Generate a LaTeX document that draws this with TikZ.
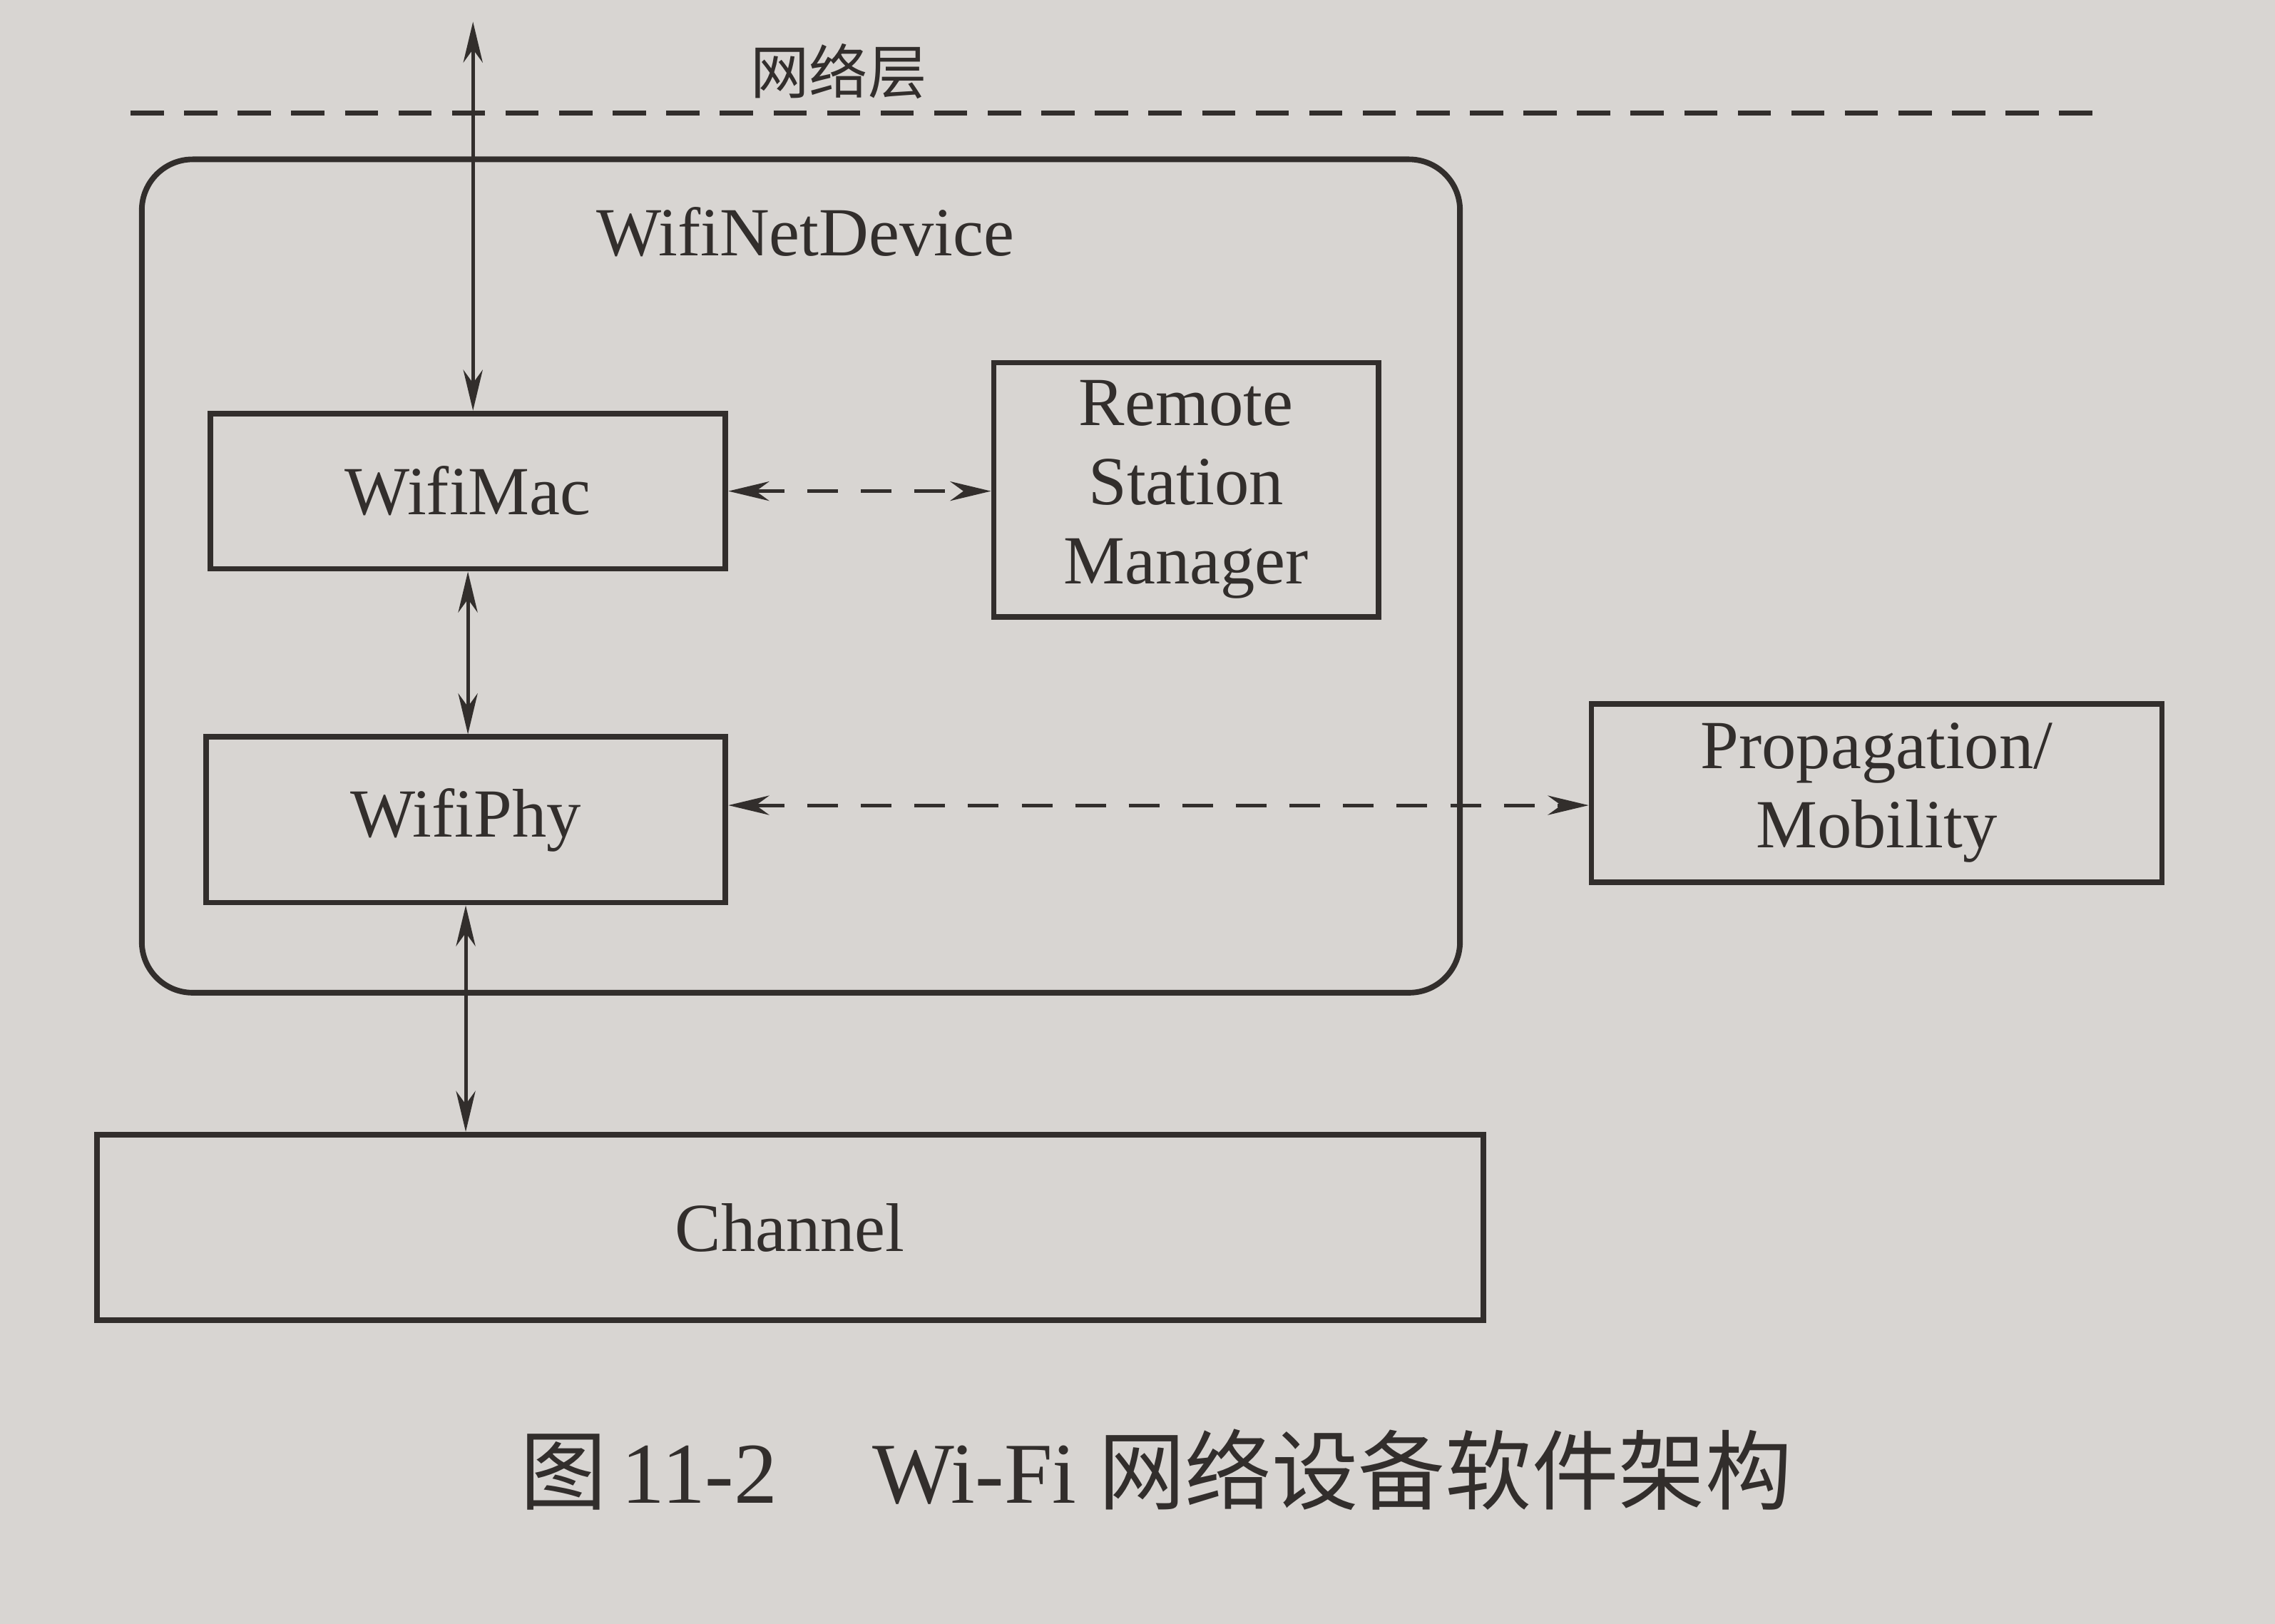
\documentclass[tikz,border=0pt]{standalone}
\usepackage{fontspec}
\setmainfont{Liberation Serif}
\newfontfamily\cjk{Noto Sans CJK SC}
\usetikzlibrary{arrows.meta,calc}
\definecolor{paper}{RGB}{216,213,210}
\definecolor{ink}{RGB}{50,46,44}
\tikzset{
  box/.style={draw=ink, line width=1.1pt, rectangle, inner sep=0pt, align=center, text=ink,
    font=\fontsize{13.5}{15.5}\selectfont},
  lbl/.style={text=ink, inner sep=0pt},
  conn/.style={draw=ink, line width=0.7pt, {Stealth[length=8pt,width=3.8pt]}-{Stealth[length=8pt,width=3.8pt]}},
  dconn/.style={conn, dash pattern=on 6pt off 4.5pt},
}
\begin{document}
\begin{tikzpicture}[x=0.01cm,y=-0.01cm]
\fill[paper] (0,0) rectangle (1568,1119);
\useasboundingbox (0,0) rectangle (1568,1119);

% network layer boundary
\coordinate (dl) at (90,78);
\coordinate (dr) at (1450,78);
\draw[ink, line width=0.9pt, dash pattern=on 6.5pt off 4pt] (dl) -- (dr);
\node[lbl, font=\cjk\fontsize{11.5}{13}\selectfont] (net) at (578,49) {网络层};

% container
\node[draw=ink, line width=1.1pt, rounded corners=0.35cm, minimum width=9.08cm, minimum height=5.74cm, inner sep=0pt] (dev) at (552,397) {};
\node[lbl, font=\fontsize{13.5}{15.5}\selectfont] (devlbl) at (555,160) {WifiNetDevice};

% boxes
\node[box, minimum width=3.55cm, minimum height=1.07cm] (mac) at (322.5,338.5) {WifiMac};
\node[box, minimum width=2.65cm, minimum height=1.75cm] (rsm) at (817.5,337.5) {Remote\\Station\\Manager};
\node[box, minimum width=3.58cm, minimum height=1.14cm] (phy) at (321,565) {WifiPhy};
\node[box, minimum width=3.93cm, minimum height=1.23cm] (prop) at (1293.5,546.5) {Propagation/\\Mobility};
\node[box, minimum width=9.55cm, minimum height=1.28cm] (chan) at (544.5,846) {Channel};

% connectors
\coordinate (nettop) at (326,15);
\draw[conn] (nettop) -- (nettop |- mac.north);
\draw[conn] (mac.south) -- (mac.south |- phy.north);
\draw[conn] (phy.south) -- (phy.south |- chan.north);
\draw[dconn] (mac.east) -- (mac.east -| rsm.west);
\coordinate (pe) at ($(phy.east)+(0,-10)$);
\draw[dconn] (pe) -- (pe -| prop.west);

% caption
\node[lbl, font=\fontsize{17}{20}\selectfont] (cap) at (797,1013)
  {{\cjk 图}\,11-2\hspace{1.1em}Wi-Fi {\cjk 网络设备软件架构}};
\end{tikzpicture}
\end{document}
